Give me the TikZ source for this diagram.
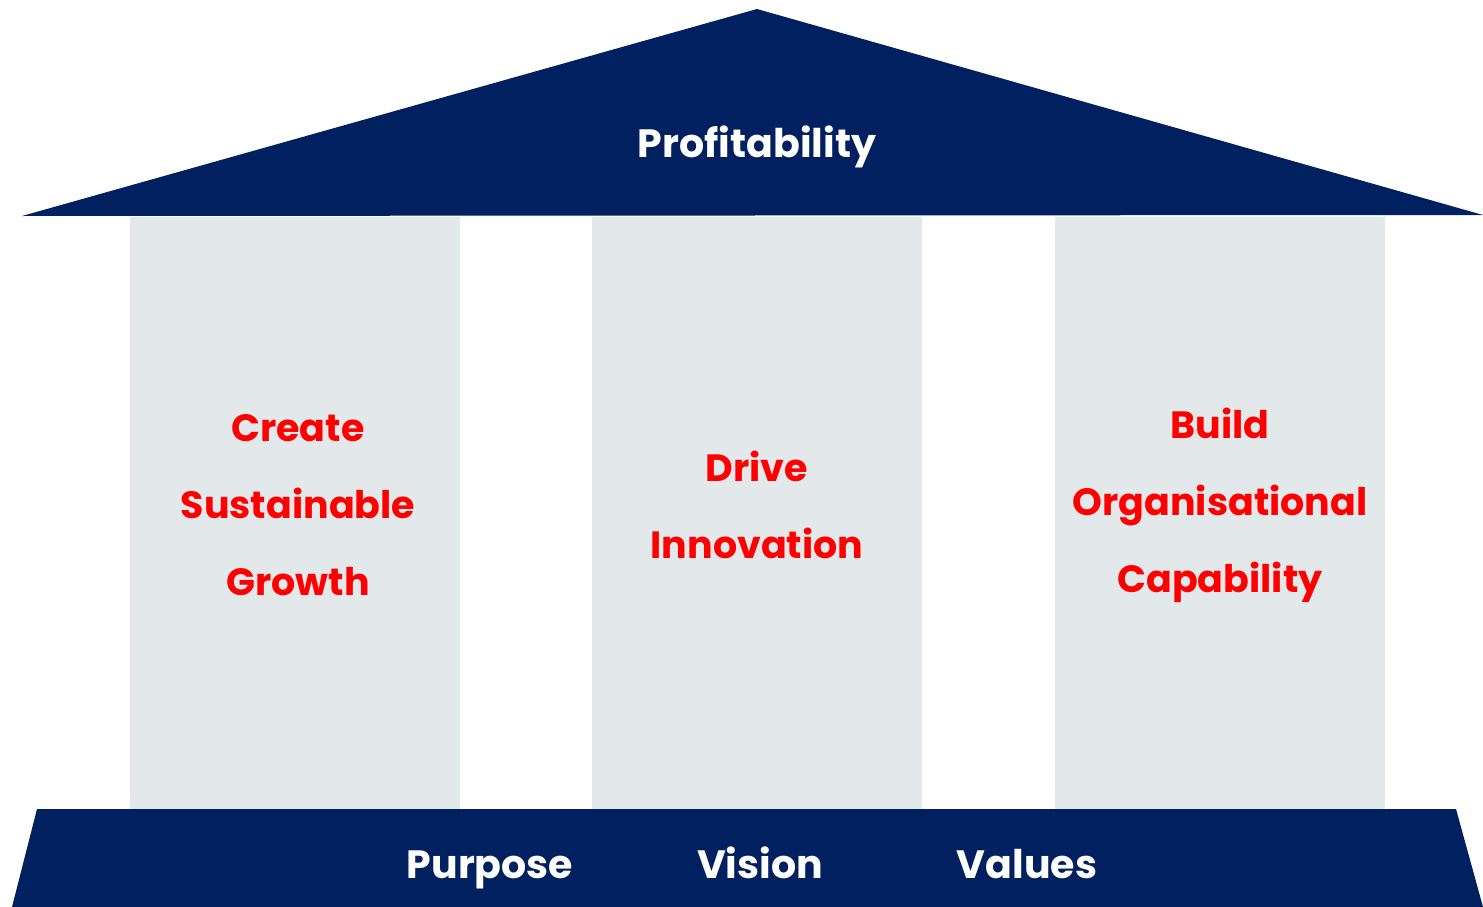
\documentclass[tikz,border=0pt]{standalone}
\usepackage{fontspec}
\setmainfont{Poppins}[RawFeature={-liga}]
\usetikzlibrary{positioning}

\definecolor{navy}{HTML}{002060}
\definecolor{pillargrey}{HTML}{E3E8EB}
\definecolor{goalred}{HTML}{FF0000}

\begin{document}
\begin{tikzpicture}[x=1pt, y=-1pt]

    \tikzset{%
    every pillar/.style={
        fill=pillargrey,
        minimum width=330pt,
        minimum height=592pt,
        inner sep=0pt
        },
    goal text/.style={
        text=goalred,
        font=\fontsize{38}{77}\selectfont\bfseries,
        align=center
        },
    band text/.style={
        text=white,
        anchor=base,
        font=\fontsize{39.5}{48}\selectfont\bfseries
        },
    }

    \useasboundingbox (0,0) rectangle (1483,907);

    % Roof
    \fill [navy] (22,216) -- (757,9) -- (1483,215) -- cycle;
    \node [band text] (roof) at (757,157) {Profitability};

    % Pillars
    \foreach \x [count=\i] in {295,757,1220}
    \node [every pillar] (pillar-\i) at (\x,513) {};

    % Pillar labels
    \node [goal text] (goal-1) at ([xshift=3pt,yshift=8pt]pillar-1.center) {Create\\Sustainable\\Growth};
    \node [goal text] (goal-2) at ([yshift=8pt]pillar-2.center) {Drive\\Innovation};
    \node [goal text] (goal-3) at ([yshift=8pt]pillar-3.center) {Build\\Organisational\\Capability};

    % Base
    \fill [navy] (37,809) -- (1456,809) -- (1483,907) -- (12,907) -- cycle;
    \foreach \l/\x [count=\i] in {Purpose/490,Vision/760,Values/1027}
    \node [band text] (base-\i) at (\x,878) {\l};

\end{tikzpicture}
\end{document}
